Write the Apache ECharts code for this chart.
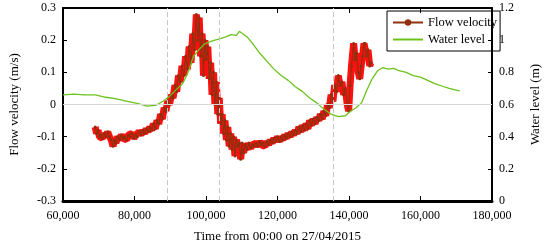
<!DOCTYPE html>
<html>
<head>
<meta charset="utf-8">
<script src="https://cdn.jsdelivr.net/npm/echarts@6/dist/echarts.min.js"></script>
<style>
	html, body { margin: 0; padding: 0; background: #fff; }
	#chart { width: 550px; height: 248px; }
</style>
</head>
<body>
<div id="chart"></div>
<script>
// time (s) from 00:00 on 27/04/2015, flow velocity (m/s)
const velocityTime = [
	69000, 69400, 69800, 70200, 70600, 71000, 71500, 72000, 72500, 73000,
	73500, 74000, 74400, 74800, 75300, 75800, 76300, 76800, 77300, 77800,
	78300, 78800, 79300, 79800, 80300, 80800, 81300, 81800, 82300, 82800,
	83300, 83800, 84300, 84800, 85300, 85800, 86300, 86800, 87300, 87800,
	88300, 88800, 89300, 89800, 90300, 90800, 91300, 91800, 92300, 92800,
	93300, 93800, 94300, 94800, 95300, 95800, 96300, 96800, 97300, 97700,
	98100, 98500, 98900, 99300, 99700, 100100, 100500, 100900, 101300, 101700,
	102100, 102500, 102900, 103300, 103700, 104100, 104500, 104900, 105300, 105700,
	106100, 106500, 106900, 107300, 107700, 108100, 108500, 108900, 109300, 109700,
	110100, 110500, 111000, 111500, 112000, 112500, 113000, 113500, 114000, 114500,
	115000, 115500, 116000, 116500, 117000, 117500, 118000, 118500, 119000, 119500,
	120000, 120500, 121000, 121500, 122000, 122500, 123000, 123500, 124000, 124500,
	125000, 125500, 126000, 126500, 127000, 127500, 128000, 128500, 129000, 129500,
	130000, 130500, 131000, 131500, 132000, 132500, 133000, 133500, 134000, 134500,
	135000, 135500, 136000, 136500, 137000, 137500, 138000, 138500, 139000, 139500,
	139900, 140300, 140700, 141300, 141700, 142100, 142600, 143000, 143400, 143800,
	144200, 144500, 144900, 145300, 145800, 146100
];
const velocityValues = [
	-0.07, -0.09, -0.08, -0.10, -0.095, -0.105, -0.09, -0.10, -0.085, -0.10,
	-0.11, -0.13, -0.11, -0.12, -0.10, -0.11, -0.095, -0.105, -0.10, -0.11,
	-0.095, -0.10, -0.09, -0.105, -0.095, -0.10, -0.085, -0.095, -0.08, -0.09,
	-0.075, -0.085, -0.07, -0.08, -0.06, -0.075, -0.05, -0.06, -0.03, -0.045,
	-0.01, -0.02, 0.01, 0.0, 0.03, 0.02, 0.06, 0.04, 0.09, 0.07,
	0.12, 0.09, 0.15, 0.11, 0.18, 0.13, 0.22, 0.17, 0.28, 0.20,
	0.27, 0.15, 0.22, 0.09, 0.20, 0.14, 0.18, 0.08, 0.13, 0.03,
	0.10, 0.0, 0.07, -0.03, 0.02, -0.06, -0.03, -0.09, -0.05, -0.11,
	-0.07, -0.13, -0.09, -0.14, -0.10, -0.16, -0.11, -0.13, -0.12, -0.17,
	-0.12, -0.15, -0.125, -0.14, -0.12, -0.135, -0.125, -0.13, -0.12, -0.13,
	-0.115, -0.125, -0.12, -0.13, -0.115, -0.125, -0.11, -0.12, -0.105, -0.115,
	-0.10, -0.115, -0.10, -0.11, -0.095, -0.105, -0.09, -0.10, -0.085, -0.095,
	-0.08, -0.09, -0.07, -0.085, -0.065, -0.08, -0.06, -0.075, -0.05, -0.065,
	-0.045, -0.06, -0.04, -0.05, -0.03, -0.045, -0.02, -0.035, 0.0, -0.01,
	0.03, 0.01, 0.06, 0.04, 0.09, 0.06, 0.07, 0.03, 0.05, 0.0,
	-0.02, 0.06, 0.12, 0.19, 0.14, 0.16, 0.10, 0.08, 0.12, 0.15,
	0.19, 0.19, 0.15, 0.17, 0.12, 0.13
];

// time (s), water level (m)
const levelTime = [
	60000, 63000, 66000, 69000, 72000, 75000, 78000, 81000, 83500, 86000,
	88000, 90000, 92000, 93500, 95000, 96500, 98000, 99500, 101000, 102500,
	104000, 105500, 107000, 108500, 109300, 110000, 111500, 113000, 115000, 117000,
	119000, 121000, 123000, 125000, 127000, 129000, 131000, 133000, 135000, 137000,
	139000, 140500, 142000, 143500, 145000, 146500, 148000, 149500, 151000, 152500,
	154000, 156000, 158000, 160000, 162000, 164000, 166000, 168000, 170000, 171000
];
const levelValues = [
	0.66, 0.665, 0.66, 0.66, 0.645, 0.635, 0.62, 0.605, 0.59, 0.595,
	0.62, 0.655, 0.70, 0.73, 0.80, 0.90, 0.94, 0.975, 0.99, 1.0,
	1.01, 1.02, 1.035, 1.03, 1.055, 1.045, 1.02, 0.98, 0.92, 0.87,
	0.82, 0.78, 0.75, 0.71, 0.68, 0.64, 0.61, 0.57, 0.54, 0.525,
	0.53, 0.56, 0.58, 0.61, 0.69, 0.76, 0.81, 0.83, 0.82, 0.825,
	0.81, 0.80, 0.78, 0.77, 0.75, 0.73, 0.715, 0.70, 0.69, 0.685
];

// dashed reference lines
const markTimes = [89100, 103700, 135700];

const xTicks = { min: 60000, max: 180000, interval: 20000 };
const velTicks = { min: -0.3, max: 0.3, interval: 0.1 };
const levelTicks = { min: 0, max: 1.2, interval: 0.2 };

const font = "Liberation Serif";

function zip(a, b) {
	return a.map((v, i) => [v, b[i]]);
}

const chart = echarts.init(document.getElementById("chart"));

const option = {
	backgroundColor: "#fff",
	animation: false,
	grid: { left: 51, right: 47, top: 8, bottom: 39 },
	legend: {
		data: [
			{ name: "Flow velocity" },
			{ name: "Water level", itemStyle: { opacity: 0 } },
		],
		orient: "vertical",
		left: 387,
		top: 11,
		itemWidth: 30,
		itemHeight: 8,
		itemGap: 4,
		padding: [5, 3, 5, 5],
		borderColor: "#000",
		borderWidth: 1,
		textStyle: { fontFamily: font, fontSize: 12.5, color: "#000" },
	},
	xAxis: [
		{
			type: "value",
			min: xTicks.min,
			max: xTicks.max,
			interval: xTicks.interval,
			name: "Time from 00:00 on 27/04/2015",
			nameLocation: "middle",
			nameGap: 29,
			nameTextStyle: { fontFamily: font, fontSize: 13, color: "#000" },
			axisLine: { onZero: false, lineStyle: { color: "#000", width: 3 } },
			axisTick: { inside: true, length: 5, lineStyle: { color: "#000" } },
			axisLabel: {
				fontFamily: font,
				fontSize: 12,
				color: "#000",
				margin: 9,
				formatter: (v) => String(v).replace(/\B(?=(\d{3})+(?!\d))/g, ","),
			},
			splitLine: { show: false },
		},
		{
			type: "value",
			position: "top",
			min: xTicks.min,
			max: xTicks.max,
			interval: xTicks.interval,
			axisLine: { onZero: false, lineStyle: { color: "#000", width: 2 } },
			axisTick: { inside: true, length: 5, lineStyle: { color: "#000" } },
			axisLabel: { show: false },
			splitLine: { show: false },
		},
	],
	yAxis: [
		{
			type: "value",
			min: velTicks.min,
			max: velTicks.max,
			interval: velTicks.interval,
			name: "Flow velocity (m/s)",
			nameLocation: "middle",
			nameGap: 42,
			nameTextStyle: { fontFamily: font, fontSize: 13, color: "#000" },
			axisLine: { show: true, onZero: false, lineStyle: { color: "#000", width: 2 } },
			axisTick: { show: true, inside: true, length: 4, lineStyle: { color: "#000" } },
			axisLabel: { fontFamily: font, fontSize: 12, color: "#000", margin: 7 },
			splitLine: { show: false },
		},
		{
			type: "value",
			position: "right",
			min: levelTicks.min,
			max: levelTicks.max,
			interval: levelTicks.interval,
			name: "Water level (m)",
			nameLocation: "middle",
			nameGap: 37,
			nameRotate: 90,
			nameTextStyle: { fontFamily: font, fontSize: 13, color: "#000" },
			axisLine: { show: true, onZero: false, lineStyle: { color: "#000", width: 2 } },
			axisTick: { show: true, inside: true, length: 4, lineStyle: { color: "#000" } },
			axisLabel: { fontFamily: font, fontSize: 12, color: "#000", margin: 7 },
			splitLine: { show: false },
		},
	],
	series: [
		{
			// red spread behind the velocity trace
			name: "velocity spread",
			type: "line",
			data: zip(velocityTime, velocityValues),
			symbol: "none",
			lineStyle: { color: "#ff1010", width: 7 },
			z: 2,
			markLine: {
				silent: true,
				symbol: "none",
				label: { show: false },
				data: [
					{ yAxis: 0, lineStyle: { color: "#d8d8d8", type: "solid", width: 1 } },
				].concat(
					markTimes.map((t) => ({
						xAxis: t,
						lineStyle: { color: "#c8c8c8", type: [5, 3], width: 1 },
					}))
				),
			},
		},
		{
			name: "Flow velocity",
			type: "line",
			data: zip(velocityTime, velocityValues),
			symbol: "circle",
			symbolSize: 3,
			itemStyle: { color: "#8e300e" },
			lineStyle: { color: "#8e300e", width: 1.2 },
			z: 3,
		},
		{
			name: "Water level",
			type: "line",
			yAxisIndex: 1,
			data: zip(levelTime, levelValues),
			symbol: "none",
			itemStyle: { color: "#6cc21c" },
			lineStyle: { color: "#6cc21c", width: 1.3 },
			z: 4,
		},
	],
};

chart.setOption(option);
</script>
</body>
</html>
